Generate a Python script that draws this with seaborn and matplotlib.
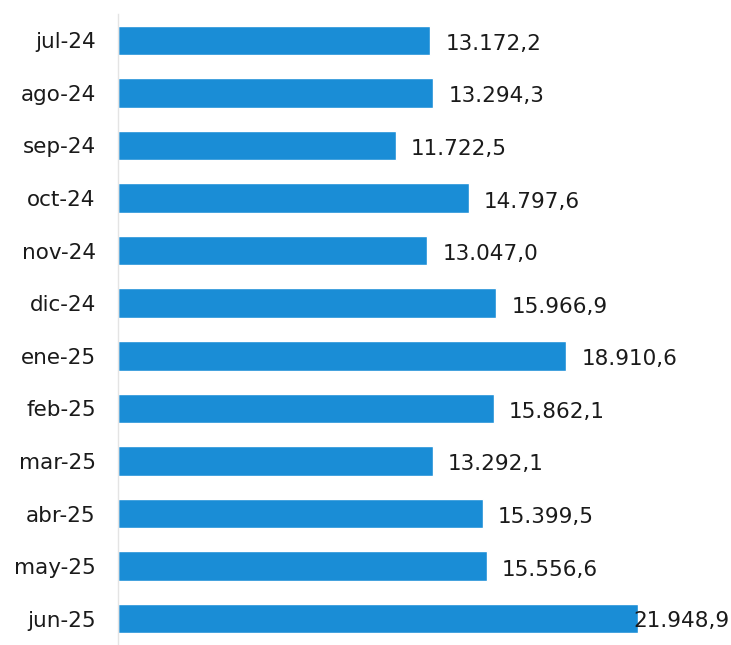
import numpy as np
import pandas as pd
import seaborn as sns
import matplotlib.pyplot as plt

# Data
months = ["jul-24", "ago-24", "sep-24", "oct-24", "nov-24", "dic-24",
          "ene-25", "feb-25", "mar-25", "abr-25", "may-25", "jun-25"]
values = [13172.2, 13294.3, 11722.5, 14797.6, 13047.0, 15966.9,
          18910.6, 15862.1, 13292.1, 15399.5, 15556.6, 21948.9]
labels = ["13.172,2", "13.294,3", "11.722,5", "14.797,6", "13.047,0", "15.966,9",
          "18.910,6", "15.862,1", "13.292,1", "15.399,5", "15.556,6", "21.948,9"]

df = pd.DataFrame({"mes": months, "valor": values})

sns.set_style("white")
plt.rcParams["font.family"] = ["DejaVu Sans"]

fig = plt.figure(figsize=(7.31, 6.45), dpi=100)
ax = fig.add_axes([118 / 731, 0, 1 - 118 / 731, 1 - 14 / 645])

sns.barplot(data=df, y="mes", x="valor", color="#1a8dd6", width=0.56,
            saturation=1, ax=ax, orient="h")

ax.set_xlim(0, 25875)
ax.set_ylim(11.32, -0.5)
ax.set_xlabel("")
ax.set_ylabel("")
ax.set_xticks([])

for s in ["top", "right", "bottom"]:
    ax.spines[s].set_visible(False)
ax.spines["left"].set_color("#e4e4e4")
ax.spines["left"].set_linewidth(1.0)

ax.tick_params(axis="y", which="major", length=0, pad=16, labelsize=15.5,
               labelcolor="#1a1a1a")
ax.set_yticks(np.arange(-0.5, 12, 1), minor=True)
ax.tick_params(axis="y", which="minor", length=4, color="#e4e4e4", width=1)

for i, (v, lab) in enumerate(zip(values, labels)):
    if i == len(values) - 1:
        ax.annotate(lab, xy=(1.0, i), xycoords=("axes fraction", "data"),
                    xytext=(-1, -2), textcoords="offset points",
                    ha="right", va="center", fontsize=15.5, color="#1a1a1a")
    else:
        ax.annotate(lab, xy=(v, i), xytext=(11, -2.5), textcoords="offset points",
                    ha="left", va="center", fontsize=15.5, color="#1a1a1a")

plt.savefig("out.png", dpi=100)
plt.close()
